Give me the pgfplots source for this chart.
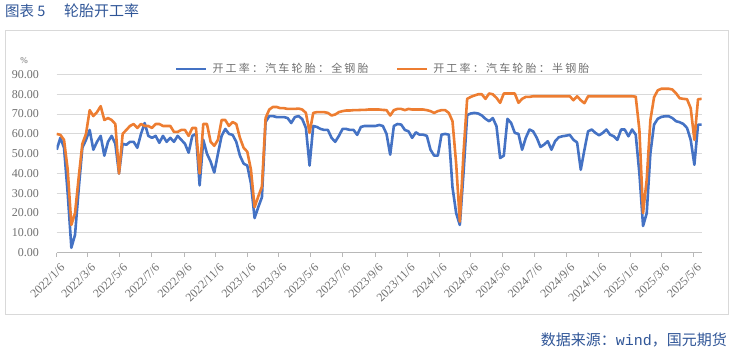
\documentclass[border=0pt]{standalone}
\usepackage{fontspec}
\setmainfont{Liberation Serif}
\newfontfamily\cjk{Noto Sans CJK SC}
\newfontfamily\cjkleg{Noto Sans CJK SC}[LetterSpace=20]
\newfontfamily\mono{Liberation Mono}
\usepackage{pgfplots}
\usepackage{pgfplotstable}
\pgfplotsset{compat=1.18}
\definecolor{blueS}{HTML}{4472C4}
\definecolor{orangeS}{HTML}{ED7D31}
\definecolor{gridc}{HTML}{D9D9D9}
\definecolor{txt}{HTML}{6F6F6F}
\definecolor{titlec}{HTML}{2F5597}

\pgfplotstableread{
w b o
0 52 60
1 58 59.5
2 53 57
3 30 42
4 2.5 14
5 9 20
6 32 38
7 53 55
8 57 60
9 62 72
10 52 69
11 56 71
12 59 74
13 49 67
14 56 68
15 59 67
16 55 65
17 40 40
18 55 60
19 54.5 62
20 56 64
21 56 65
22 53 63
23 60 65
24 65.5 64
25 59 64
26 58 63
27 59 65
28 55.5 65
29 59 64
30 56 64
31 58 64
32 56 61
33 59 61
34 57 62
35 55 62
36 50.5 59
37 59 63
38 60 63
39 34 40
40 57 65
41 50 65
42 46 56
43 40.5 54
44 50 57
45 59 67
46 62.5 67
47 60 64
48 59.5 66
49 56 65
50 49 58
51 45 53
52 44 51
53 35 42
54 17.5 23
55 23 28.4
56 28 33.4
57 66 68
58 69 72.3
59 69 73.6
60 68.5 73.6
61 68.5 73
62 68.5 73
63 68 72.6
64 65.5 72.6
65 68.5 72.6
66 69 72.8
67 67.5 72.3
68 63 70.6
69 44 60.5
70 64 70.6
71 63.5 71
72 62.5 71
73 62 71
74 62 70.6
75 58 69.3
76 56 69.8
77 59 71
78 62.5 71.5
79 62.5 71.8
80 62 71.8
81 62 72
82 59.5 72
83 63.5 72.1
84 64 72.1
85 64 72.3
86 64 72.3
87 64 72.3
88 64.5 72.3
89 64 72.1
90 60 72
91 49.5 69.3
92 64 72
93 65 72.6
94 64.7 72.6
95 62 72
96 61.3 72.6
97 58 72.3
98 60.8 72.3
99 59.6 72.3
100 59.6 72.3
101 59 72
102 52 71.5
103 49 70.6
104 49 71.5
105 59.6 72
106 60 72
107 59.6 70.6
108 33 66.4
109 20 45
110 14 15.7
111 40 50.3
112 69.5 77.7
113 70.3 78.7
114 70.6 79.4
115 70.3 80
116 69.3 80
117 67.6 77.7
118 66.4 80.4
119 68 80
120 63.9 78.2
121 47.8 75.7
122 49 80.4
123 67.6 80.4
124 65.5 80.4
125 60.5 80.4
126 60 75.7
127 52 77.7
128 58 78.7
129 62.2 78.7
130 61.3 79
131 58 79
132 53.4 79
133 54.6 79
134 56.3 79
135 52 79
136 56.3 79
137 58.3 79
138 58.8 79
139 59.1 79
140 59.5 79
141 57 77
142 55.7 79
143 41.9 77
144 52 75.5
145 61.3 79
146 62.2 79
147 60.5 79
148 59.3 79
149 60.5 79
150 62.2 79
151 59.6 79
152 58.8 79
153 57 79
154 62.2 79
155 62.2 79
156 58.8 79
157 62.2 79
158 59.6 78.8
159 40 62
160 13.5 20
161 20 37
162 50.3 67
163 64.7 78.5
164 67.6 82
165 68.6 82.8
166 68.9 82.8
167 68.9 82.8
168 68 82.4
169 66.4 80.5
170 65.9 78
171 65 77.7
172 63 77.5
173 57 73
174 44.4 57
175 64.7 77.5
176 64.7 77.7
}\datatable

\begin{document}
\begin{tikzpicture}
\path[use as bounding box] (0pt,0pt) rectangle (737pt,352pt);
\draw[gridc, line width=0.8pt] (5.7pt,38pt) rectangle (728pt,322pt);
\node[anchor=west, text=titlec, inner sep=0pt, font=\cjk\fontsize{14.5}{14.5}\selectfont] at (5pt,341pt) {图表 5};
\node[anchor=west, text=titlec, inner sep=0pt, font=\cjk\fontsize{15}{15}\selectfont] at (64pt,341pt) {轮胎开工率};
\node[anchor=east, text=titlec, inner sep=0pt, font=\fontsize{15}{15}\selectfont] at (727pt,12pt) {{\cjk 数据来源：}{\mono wind}{\cjk ，国元期货}};
\node[text=txt, inner sep=0pt, font=\fontsize{9}{9}\selectfont] at (24pt,291pt) {\%};
\begin{axis}[
  at={(56.7pt,99.3pt)}, anchor=south west,
  scale only axis, width=645pt, height=178.2pt,
  xmin=0, xmax=176, ymin=0, ymax=90,
  axis x line*=bottom, axis y line*=left,
  y axis line style={draw=none},
  x axis line style={draw=gridc!85!black, line width=0.8pt},
  ytick={0,10,...,90},
  ytick style={draw=none},
  xtick={0,8.43,17.14,25.86,34.71,43.43,52.14,60.57,69.29,78,86.86,95.57,104.29,112.86,121.57,130.29,139.14,147.86,156.57,165,173.71},
  xticklabels={2022/1/6,2022/3/6,2022/5/6,2022/7/6,2022/9/6,2022/11/6,2023/1/6,2023/3/6,2023/5/6,2023/7/6,2023/9/6,2023/11/6,2024/1/6,2024/3/6,2024/5/6,2024/7/6,2024/9/6,2024/11/6,2025/1/6,2025/3/6,2025/5/6},
  xtick style={draw=gridc!85!black, line width=0.8pt},
  major tick length=4pt, tick align=outside,
  ymajorgrids, grid style={gridc, line width=0.8pt},
  /pgf/number format/assume math mode=true,
  yticklabel={\pgfmathprintnumber[fixed, fixed zerofill, precision=2]{\tick}},
  yticklabel style={font=\fontsize{12}{12}\selectfont, text=txt, inner sep=0pt, anchor=east, xshift=-13.7pt},
  xticklabel style={xshift=3pt, rotate=45, anchor=north east, font=\fontsize{12}{12}\selectfont, text=txt, inner sep=0pt},
  xticklabel shift=6pt,
  legend style={at={(0.5,1)}, anchor=center, xshift=3pt, yshift=5.5pt, draw=none, fill=none,
    font=\cjkleg\fontsize{11}{11}\selectfont, text=txt, legend columns=2,
    /tikz/every odd column/.append style={column sep=5pt},
    /tikz/every even column/.append style={column sep=27pt},
    nodes={inner sep=0pt}},
  legend image code/.code={\draw[line width=2.6pt] (0pt,0pt) -- (30pt,0pt);},
]
\addplot[blueS, line width=2.6pt, line join=round, no marks] table[x=w, y=b] {\datatable};
\addlegendentry{开工率：汽车轮胎：全钢胎}
\addplot[orangeS, line width=2.6pt, line join=round, no marks] table[x=w, y=o] {\datatable};
\addlegendentry{开工率：汽车轮胎：半钢胎}
\end{axis}
\end{tikzpicture}
\end{document}
